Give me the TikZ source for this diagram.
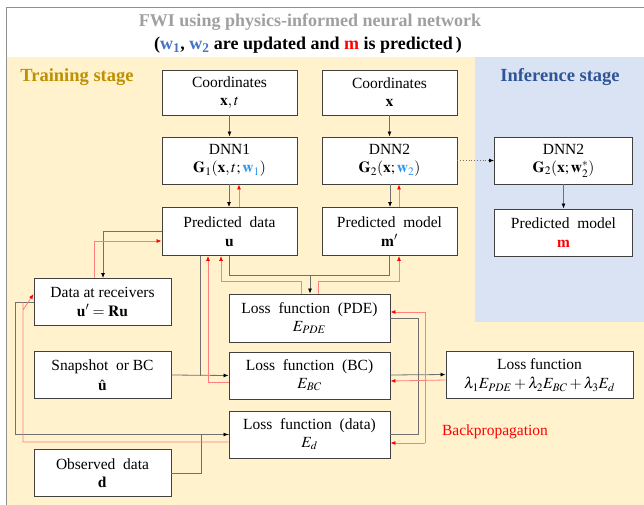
\documentclass[tikz,border=0pt]{standalone}
\usepackage{mathptmx}
\usepackage[no-math]{fontspec}
\setmainfont{Liberation Serif}
\usetikzlibrary{arrows.meta}
\definecolor{trainbg}{HTML}{FFF2CC}
\definecolor{inferbg}{HTML}{DAE3F3}
\definecolor{titlegray}{HTML}{A0A0A0}
\definecolor{wblue}{HTML}{4472C4}
\definecolor{wlight}{HTML}{2E95EE}
\definecolor{gold}{HTML}{BF9000}
\definecolor{infblue}{HTML}{2F5597}
\definecolor{fwdline}{HTML}{707070}
\definecolor{bwdline}{HTML}{FF8080}
\begin{document}
\begin{tikzpicture}[x=1pt,y=-1pt,
  box/.style={draw=black!75, line width=0.9pt, fill=white, align=center,
    inner sep=1pt, font=\fontsize{15.5}{17.5}\selectfont},
  fwd/.style={draw=fwdline, line width=0.8pt, -{Latex[length=5pt,width=4pt,color=black]}},
  fwdplain/.style={draw=fwdline, line width=0.8pt},
  bwd/.style={draw=bwdline, line width=0.8pt, -{Latex[length=5pt,width=4pt,color=red]}},
  bwdplain/.style={draw=bwdline, line width=0.8pt}]
\useasboundingbox (0,0) rectangle (644,505);
% background panels
\fill[white] (0,0) rectangle (644,505);
\fill[trainbg] (6.5,57) rectangle (644,505);
\fill[inferbg] (475,57) rectangle (644,322);
\draw[titlegray!90!black, line width=1pt] (644,7.5) -- (6.5,7.5) -- (6.5,505);

% headings
\node[font=\bfseries\fontsize{18}{20}\selectfont, text=titlegray] (title) at (310,22)
  {FWI using physics-informed neural network};
\node[font=\bfseries\fontsize{18}{20}\selectfont] (subtitle) at (308,45)
  {(\textcolor{wblue}{w\textsubscript{1}}, \textcolor{wblue}{w\textsubscript{2}} are updated and \textcolor{red}{m} is predicted\,)};
\node[font=\bfseries\fontsize{18.5}{20}\selectfont, text=gold] (train) at (77,77) {Training stage};
\node[font=\bfseries\fontsize{18.5}{20}\selectfont, text=infblue] (infer) at (560,77) {Inference stage};

% boxes
\node[box, minimum width=135pt, minimum height=45pt] (cxt) at (229.5,92.5)
  {Coordinates\\[0.5pt] $\mathbf{x},t$};
\node[box, minimum width=135pt, minimum height=45pt] (cx) at (389.5,92.5)
  {Coordinates\\[0.5pt] $\mathbf{x}$};
\node[box, minimum width=135pt, minimum height=47pt] (dnn1) at (229.5,160.5)
  {DNN1\\[1pt] $\mathbf{G}_1(\mathbf{x},t;\textcolor{wlight}{\mathbf{w}_1})$};
\node[box, minimum width=135pt, minimum height=47pt] (dnn2) at (389.5,160.5)
  {DNN2\\[1pt] $\mathbf{G}_2(\mathbf{x};\textcolor{wlight}{\mathbf{w}_2})$};
\node[box, minimum width=138pt, minimum height=47pt] (dnn2i) at (563.5,160.5)
  {DNN2\\[1pt] $\mathbf{G}_2(\mathbf{x};\mathbf{w}_2^{*})$};
\node[box, minimum width=135pt, minimum height=48pt] (pd) at (229.5,231.5)
  {Predicted\ \ data\\[1pt] $\mathbf{u}$};
\node[box, minimum width=135pt, minimum height=48pt] (pm) at (389.5,231.5)
  {Predicted\ \ model\\[1pt] $\mathbf{m}'$};
\node[box, minimum width=138pt, minimum height=47pt] (pmi) at (563.5,232.5)
  {Predicted\ \ model\\[1pt] $\textcolor{red}{\mathbf{m}}$};
\node[box, minimum width=137pt, minimum height=47pt] (rec) at (102.5,302)
  {Data at receivers\\[1pt] $\mathbf{u}'=\mathbf{R}\mathbf{u}$};
\node[box, minimum width=137pt, minimum height=47pt] (snap) at (102.5,375)
  {Snapshot\ \ or BC\\[3pt] $\hat{\mathbf{u}}$};
\node[box, minimum width=137pt, minimum height=47pt] (obs) at (102.5,473)
  {Observed\ \ data\\[1pt] $\mathbf{d}$};
\node[box, minimum width=161pt, minimum height=48pt] (lpde) at (309.5,318)
  {Loss\ \ function\ \ (PDE)\\[0pt] $E_{PDE}$};
\node[box, minimum width=161pt, minimum height=47pt] (lbc) at (309.5,375.5)
  {Loss\ \ function\ \ (BC)\\[0pt] $E_{BC}$};
\node[box, minimum width=161pt, minimum height=47pt] (ld) at (309.5,434.5)
  {Loss\ \ function\ \ (data)\\[0pt] $E_{d}$};
\node[box, minimum width=187pt, minimum height=47pt] (ltot) at (539.5,375)
  {Loss function\\[2pt] $\lambda_1E_{PDE}+\lambda_2E_{BC}+\lambda_3E_{d}$};
\node[text=red, font=\fontsize{15.5}{17}\selectfont] (bp) at (495,432) {Backpropagation};

% junction points
\coordinate (jpd) at (310,275);
\coordinate (jbc) at (200,375.5);
\coordinate (jd) at (201,434.5);
\coordinate (jtot) at (418,434.5);

% forward connectors
\draw[fwd] (cxt) -- (dnn1);
\draw[fwd] (cx) -- (dnn2);
\draw[fwd] ([xshift=-0.5pt]dnn1.south) -- ([xshift=-0.5pt]pd.north);
\draw[fwd] ([xshift=0.5pt]dnn2.south) -- ([xshift=0.5pt]pm.north);
\draw[fwdplain, dotted, -{Latex[length=5pt,width=4pt,color=black]}] (dnn2) -- (dnn2i);
\draw[fwd] (dnn2i) -- (pmi);
\draw[fwd] ([yshift=0.5pt]pd.west) -| ([xshift=0.5pt]rec.north);
\draw[fwdplain] ([xshift=-0.5pt]pd.south) |- (jpd);
\draw[fwdplain] ([xshift=-0.5pt]pm.south) |- (jpd);
\draw[fwd] (jpd) -- ([xshift=0.5pt]lpde.north);
\draw[fwdplain] ([xshift=-29.5pt]pd.south) -- (jbc);
\draw[fwd] (snap.east) -- (lbc.west);
\draw[fwdplain] (rec.west) -- ++(-18,0) |- (ld.west);
\draw[fwd] (jd) -- (ld.west);
\draw[fwdplain] (obs.east) -| (jd);
\draw[fwdplain] (lpde.east) -| (jtot);
\draw[fwdplain] (ld.east) -- (jtot);
\draw[fwd] ([yshift=0.5pt]lbc.east) -- ([yshift=0.5pt]ltot.west);

% backpropagation connectors
\draw[bwd] ([xshift=9.5pt]pd.north) -- ([xshift=9.5pt]dnn1.south);
\draw[bwd] ([xshift=9.5pt]pm.north) -- ([xshift=9.5pt]dnn2.south);
\draw[bwd] ([xshift=-8.5pt]rec.north) |- ([yshift=-9.5pt]pd.west);
\draw[bwd] ([xshift=-8.5pt]lpde.north) |- ++(-80,-12) -- ([xshift=-8.5pt]pd.south);
\draw[bwd] ([xshift=8.5pt]lpde.north) |- ++(81,-12) -- ([xshift=9.5pt]pm.south);
\draw[bwd] ([yshift=-6.5pt]lbc.west) -| ([xshift=-21.5pt]pd.south);
\draw[bwd] ([yshift=-7.5pt]ld.west) -| (23,0 |- rec.west) ++(0,8) -- ([yshift=8pt]rec.west);
\draw[bwd] ([yshift=-5pt]ltot.west) -- ([yshift=-5.5pt]lbc.east);
\draw[bwdplain] (425,312) -- (425,443);
\draw[bwd] (425,312) -- (lpde.east |- 0,312);
\draw[bwd] (425,443) -- (ld.east |- 0,443);
\end{tikzpicture}
\end{document}
